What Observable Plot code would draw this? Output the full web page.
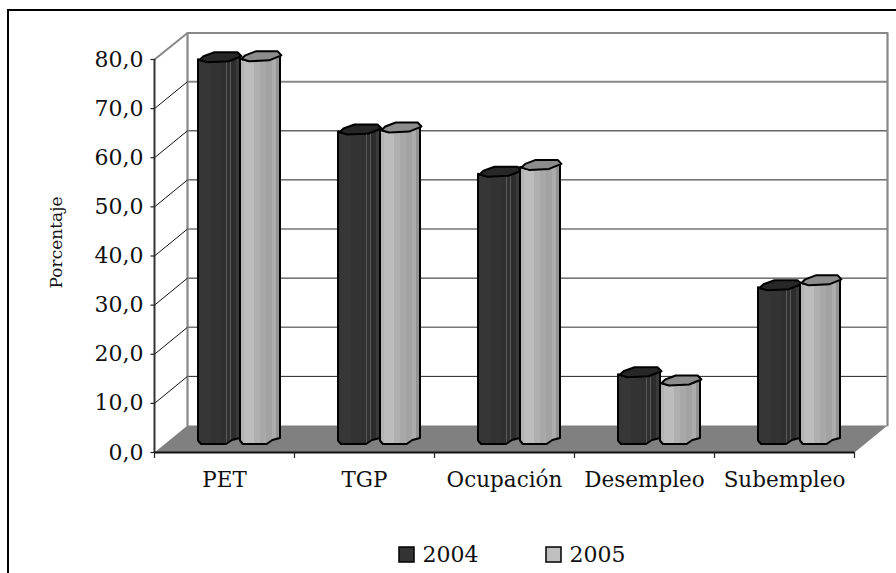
<!DOCTYPE html>
<html><head><meta charset="utf-8">
<script src="https://cdn.jsdelivr.net/npm/d3@7"></script>
<script src="https://cdn.jsdelivr.net/npm/@observablehq/plot@0.6"></script>
<style>
html,body{margin:0;padding:0;background:#fff;overflow:hidden}
#frame{position:absolute;left:7px;top:9px;width:900px;height:600px;border:2px solid #000;box-sizing:border-box;pointer-events:none}
#chart{position:absolute;left:0;top:0}
svg{display:block}
</style></head><body>
<div id="chart"></div><div id="frame"></div>
<script>
const categories = ["PET","TGP","Ocupación","Desempleo","Subempleo"];
const values2004 = [77.8,63.1,54.5,13.7,31.4];
const values2005 = [78.0,63.5,55.9,12.0,32.4];
const years = ["2004","2005"];
const yTicks = [0,10,20,30,40,50,60,70,80];

// scale helpers: pixels per unit of each scale
const PX = 140, PY = 393/80;
const ux = p => p/PX, uy = p => p/PY;
const depthX = ux(33), depthY = uy(27);
const gridColor = {10:"#222",20:"#777",30:"#222",40:"#333",50:"#222",60:"#666",70:"#888",80:"#888"};
const gridWidth = {10:1,20:1.5,30:1,40:1,50:1,60:1.5,70:2,80:2.5};
const base = uy(8);
// cylinder outline: [offset, lower edge, upper edge] in pixels
const outline = [[0,3.5,2.5],[3,0,1.5],[9,0,0],[28,0,1],[34,4,3.5],[42,6,6]];
const cap = [[1,2.3],[5,6],[16,10],[39,10],[43,6],[30,1],[9,0],[1,2.3]];

function bodyRows(vals, left, w){
  return vals.flatMap((v,i)=>outline.map(([u,lo,hi])=>({
    b:i, x:i+ux(left+u*w/42), y1:base+uy(lo), y2:base+v+uy(hi)})));
}
function capRows(vals, left, w){
  return vals.flatMap((v,i)=>cap.map(([u,h])=>({
    b:i, x:i+ux(left+u*w/42), y:base+v+uy(h)})));
}
const gradient = (id, stops) => () => {
  const svg = d3.create("svg:g");
  const g = svg.append("defs").append("linearGradient").attr("id",id).attr("x1",0).attr("x2",1).attr("y1",0).attr("y2",0);
  stops.forEach(([o,c],k)=>{
    g.append("stop").attr("offset",o).attr("stop-color",c);
    if(k<stops.length-1) g.append("stop").attr("offset",stops[k+1][0]).attr("stop-color",c);
  });
  return svg.node();
};
const dark = [[0,"#363636"],[.3,"#333"],[.55,"#303030"],[.66,"#5a5a5a"],[.68,"#303030"],[.76,"#5a5a5a"],[.78,"#2c2c2c"],[.9,"#3a3a3a"],[.97,"#222"]];
const light = [[0,"#b4b4b4"],[.1,"#bcbcbc"],[.35,"#b0b0b0"],[.5,"#a8a8a8"],[.65,"#a2a2a2"],[.8,"#acacac"],[.9,"#939393"]];

const font = "'DejaVu Serif', serif";
const floor = [[0,0],[5,0],[5+depthX,depthY],[depthX,depthY],[0,0]].map(([x,y])=>({x,y}));
const wall = [[depthX,depthY],[depthX,80+depthY-uy(0.5)],[5+depthX,80+depthY-uy(0.5)],[5+depthX,depthY]].map(([x,y])=>({x,y}));
const legendX = [ (399-154)/PX, (546-154)/PX ];
const legendTextX = [ (422-154)/PX, (569-154)/PX ];
const legendY = (452-554.5)/PY;

const plot = Plot.plot({
  width:896, height:573, margin:0, marginLeft:0, marginTop:0, marginRight:0, marginBottom:0,
  style:{background:"transparent",overflow:"visible"},
  x:{type:"linear",domain:[0,5],range:[154,854],axis:null},
  y:{type:"linear",domain:[0,80],range:[452,59],axis:null},
  marks:[
    gradient("g2004",dark),
    gradient("g2005",light),
    // back wall gridlines
    Plot.link(yTicks.filter(d=>d>0&&d<80),{x1:depthX,x2:5+depthX,y1:d=>d+depthY,y2:d=>d+depthY,
      stroke:d=>gridColor[d],strokeWidth:d=>gridWidth[d]}),
    Plot.line(wall,{x:"x",y:"y",stroke:"#888",strokeWidth:2.2}),
    // side diagonals
    Plot.link(yTicks.filter(d=>d>0&&d<80),{x1:0,x2:depthX,y1:d=>d,y2:d=>d+depthY,stroke:"#111",strokeWidth:1}),
    Plot.link([80],{x1:0,x2:depthX,y1:d=>d,y2:d=>d+depthY-uy(0.5),stroke:"#888",strokeWidth:2}),
    // floor
    Plot.line(floor,{x:"x",y:"y",stroke:"none",fill:"#808080"}),
    // axes
    Plot.ruleX([0],{y1:0,y2:80,stroke:"#333",strokeWidth:2}),
    Plot.ruleY([0],{x1:0,x2:5,stroke:"#111",strokeWidth:2}),
    Plot.link(yTicks,{x1:-ux(4),x2:0,y1:d=>d,y2:d=>d,stroke:"#222",strokeWidth:1.2}),
    Plot.ruleX([0,1,2,3,4,5],{y1:0,y2:-uy(6),stroke:"#222",strokeWidth:1.2}),
    Plot.text(yTicks,{x:0,y:d=>d,text:d=>d.toFixed(1).replace(".",","),textAnchor:"end",dx:-11,fontSize:22,fontFamily:font,fill:"#111"}),
    Plot.text(categories,{x:(d,i)=>i+.5,y:-uy(28),text:d=>d,textAnchor:"middle",fontSize:21.5,fontFamily:font,fill:"#111"}),
    Plot.text(["Porcentaje"],{x:-ux(98),y:uy(210),text:d=>d,rotate:-90,textAnchor:"middle",fontSize:17,fontFamily:font,fill:"#111"}),
    // bars
    Plot.areaY(bodyRows(values2004,44,42),{x:"x",y1:"y1",y2:"y2",z:"b",fill:"url(#g2004)",stroke:"#000",strokeWidth:2,strokeLinejoin:"round"}),
    Plot.line(capRows(values2004,44,42),{x:"x",y:"y",z:"b",fill:"#272727",stroke:"#000",strokeWidth:2,strokeLinejoin:"round"}),
    Plot.areaY(bodyRows(values2005,86,40),{x:"x",y1:"y1",y2:"y2",z:"b",fill:"url(#g2005)",stroke:"#000",strokeWidth:2,strokeLinejoin:"round"}),
    Plot.line(capRows(values2005,86,40),{x:"x",y:"y",z:"b",fill:"#8c8c8c",stroke:"#000",strokeWidth:2,strokeLinejoin:"round"}),
    // legend
    Plot.rect(years,{x1:(d,i)=>legendX[i],x2:(d,i)=>legendX[i]+ux(15),y1:legendY-uy(7.5),y2:legendY+uy(7.5),
      fill:(d,i)=>i?"#c0c0c0":"#333",stroke:"#000",strokeWidth:1.5}),
    Plot.text(years,{x:(d,i)=>legendTextX[i],y:legendY,text:d=>d,textAnchor:"start",fontSize:22,fontFamily:font,fill:"#111"})
  ]
});
document.getElementById("chart").append(plot);
</script>
</body></html>
